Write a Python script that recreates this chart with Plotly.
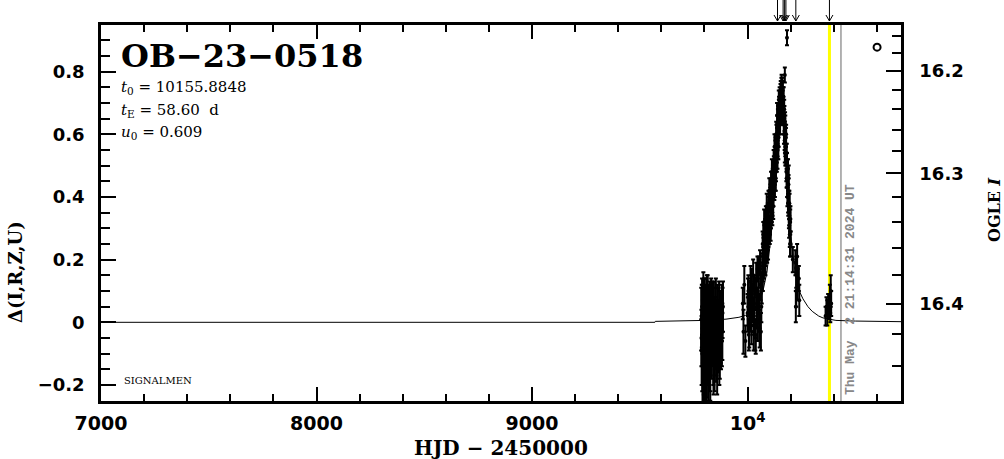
import plotly.graph_objects as go

# ---------------- data ----------------
# model curve
model_hjd = [7000, 9570, 9572, 9700, 9800, 9900, 9960, 9990, 10010, 10030, 10050,
             10070, 10090, 10110, 10125, 10140, 10150, 10156, 10162, 10172, 10186,
             10200, 10220, 10240, 10257, 10280, 10300, 10330, 10350, 10380, 10410,
             10500, 10712]
model_delta = [0.000, 0.000, 0.003, 0.004, 0.006, 0.010, 0.016, 0.022, 0.028, 0.040, 0.060,
               0.095, 0.160, 0.280, 0.420, 0.600, 0.700, 0.740, 0.700, 0.600, 0.420,
               0.280, 0.160, 0.100, 0.075, 0.050, 0.035, 0.020, 0.014, 0.009, 0.006,
               0.004, 0.002]

# cluster A (early season)
a_hjd = [9786, 9788, 9790, 9792, 9794, 9796, 9798, 9800, 9802, 9804, 9806, 9808, 9810,
         9812, 9814, 9816, 9818, 9820, 9822, 9824, 9826, 9828, 9830, 9833, 9836, 9839,
         9842, 9845, 9848, 9851, 9854, 9857, 9860, 9863, 9866, 9869, 9872, 9875, 9878,
         9881, 9884]
a_delta = [-0.05, 0.02, -0.10, 0.04, -0.08, -0.02, 0.05, -0.12, 0.00, -0.06, 0.03, -0.15,
           -0.04, 0.06, -0.09, -0.01, -0.13, 0.02, -0.07, 0.04, -0.11, -0.03, 0.01, -0.08,
           0.05, -0.05, -0.12, 0.00, -0.06, 0.03, -0.09, -0.02, 0.04, -0.07, -0.01, -0.10,
           0.02, -0.04, 0.01, -0.06, 0.03]
a_err = [0.09, 0.10, 0.12, 0.08, 0.11, 0.10, 0.09, 0.12, 0.10, 0.11, 0.09, 0.12, 0.10,
         0.09, 0.11, 0.10, 0.12, 0.09, 0.10, 0.08, 0.11, 0.10, 0.09, 0.10, 0.08, 0.09,
         0.11, 0.08, 0.09, 0.08, 0.10, 0.09, 0.08, 0.09, 0.08, 0.10, 0.08, 0.09, 0.07,
         0.08, 0.08]
a2_hjd = [9785, 9787, 9789, 9791, 9793, 9795, 9797, 9799, 9801, 9803, 9805, 9807, 9809,
          9811, 9813, 9815, 9817, 9819, 9821, 9823, 9825, 9827, 9829, 9831, 9835, 9838,
          9841, 9844, 9847, 9850, 9853, 9856, 9859, 9862, 9865, 9868, 9871, 9874, 9877,
          9880, 9883, 9886]
a2_delta = [0.01, -0.09, 0.05, -0.14, -0.03, 0.07, -0.11, -0.04, 0.04, -0.16,
            0.00, -0.07, 0.05, -0.12, -0.02, 0.06, -0.08, -0.14, 0.03, -0.05,
            0.04, -0.13, -0.06, 0.05, -0.03, 0.02, -0.09, 0.04, -0.11, -0.02,
            0.05, -0.07, -0.12, 0.02, -0.04, 0.04, -0.08, 0.01, -0.05, 0.03,
            -0.03, 0.05]
a2_err = [0.10, 0.11, 0.09, 0.12, 0.10, 0.09, 0.12, 0.11, 0.10, 0.12,
          0.10, 0.11, 0.09, 0.12, 0.10, 0.09, 0.11, 0.12, 0.09, 0.10,
          0.09, 0.12, 0.11, 0.09, 0.10, 0.09, 0.11, 0.09, 0.11, 0.10,
          0.09, 0.10, 0.11, 0.09, 0.10, 0.09, 0.10, 0.09, 0.10, 0.09,
          0.09, 0.08]

# cluster B (start of rise)
b_hjd = [9978, 9981, 9985, 9990, 10000, 10004, 10008, 10012, 10016, 10020, 10024, 10028,
         10032, 10036, 10040, 10044, 10048, 10052, 10056, 10060, 10064, 10068]
b_delta = [0.06, -0.03, 0.12, -0.06, 0.03, 0.10, -0.02, 0.08, 0.02, 0.12, 0.05, -0.03,
           0.10, -0.04, 0.14, 0.06, 0.00, 0.16, -0.02, 0.12, 0.05, 0.18]
b_err = [0.05, 0.07, 0.06, 0.05, 0.06, 0.05, 0.06, 0.05, 0.05, 0.05, 0.05, 0.06,
         0.05, 0.05, 0.05, 0.05, 0.06, 0.05, 0.06, 0.05, 0.05, 0.04]
b2_hjd = [10002, 10006, 10010, 10014, 10018, 10022, 10026, 10030, 10034, 10038, 10042,
          10046, 10050, 10054, 10058, 10062, 10066]
b2_delta = [0.08, -0.04, 0.05, 0.13, -0.01, 0.07, 0.15, 0.02, 0.09, -0.05, 0.04,
            0.17, 0.09, 0.03, 0.19, -0.03, 0.11]
b2_err = [0.06, 0.05, 0.06, 0.05, 0.06, 0.05, 0.05, 0.06, 0.05, 0.05, 0.06,
          0.04, 0.05, 0.06, 0.04, 0.06, 0.05]

# rising branch
r_hjd = [10070, 10072, 10074, 10076, 10078, 10080, 10082, 10084, 10086, 10088, 10090,
         10092, 10094, 10096, 10098, 10100, 10102, 10104, 10106, 10108, 10110, 10112,
         10114, 10116, 10118, 10120, 10122, 10124, 10126, 10128, 10130, 10132, 10134,
         10136, 10138, 10140, 10142, 10144, 10146, 10148, 10150, 10152, 10154, 10156,
         10158]
r_delta = [0.25, 0.17, 0.23, 0.18, 0.27, 0.20, 0.29, 0.22, 0.31, 0.24, 0.33,
           0.26, 0.35, 0.27, 0.37, 0.29, 0.39, 0.31, 0.41, 0.33, 0.43, 0.35,
           0.45, 0.37, 0.47, 0.40, 0.50, 0.42, 0.52, 0.45, 0.56, 0.48, 0.60,
           0.51, 0.63, 0.55, 0.66, 0.59, 0.69, 0.63, 0.71, 0.67, 0.74, 0.70,
           0.76]
r_err = [0.04, 0.04, 0.04, 0.04, 0.04, 0.04, 0.04, 0.04, 0.03, 0.04, 0.03,
         0.03, 0.03, 0.03, 0.03, 0.03, 0.03, 0.03, 0.03, 0.03, 0.03, 0.03,
         0.03, 0.03, 0.03, 0.03, 0.03, 0.03, 0.03, 0.03, 0.03, 0.03, 0.03,
         0.03, 0.03, 0.03, 0.03, 0.03, 0.03, 0.03, 0.03, 0.03, 0.03, 0.03,
         0.03]
r2_hjd = [10071, 10073, 10075, 10077, 10079, 10081, 10083, 10085, 10087, 10089, 10091,
          10093, 10095, 10097, 10099, 10101, 10103, 10105, 10107, 10109, 10111, 10113,
          10115, 10117, 10119, 10121, 10123, 10125, 10127, 10129, 10131, 10133, 10135,
          10137, 10139, 10141, 10143, 10145, 10147, 10149, 10151, 10153, 10155, 10157]
r2_delta = [0.14, 0.28, 0.20, 0.32, 0.19, 0.28, 0.19, 0.33, 0.25, 0.37, 0.23,
            0.33, 0.24, 0.38, 0.30, 0.42, 0.29, 0.39, 0.30, 0.44, 0.36, 0.48,
            0.35, 0.45, 0.37, 0.51, 0.43, 0.56, 0.44, 0.54, 0.46, 0.60, 0.53,
            0.66, 0.53, 0.64, 0.56, 0.71, 0.63, 0.72, 0.63, 0.73, 0.66, 0.75]
r2_err = [0.04, 0.04, 0.04, 0.04, 0.04, 0.04, 0.04, 0.04, 0.04, 0.04, 0.04,
          0.04, 0.04, 0.04, 0.04, 0.04, 0.04, 0.04, 0.04, 0.04, 0.04, 0.04,
          0.04, 0.04, 0.04, 0.04, 0.04, 0.04, 0.04, 0.04, 0.04, 0.04, 0.04,
          0.04, 0.04, 0.04, 0.04, 0.03, 0.03, 0.03, 0.03, 0.03, 0.03, 0.03]

# falling branch
f_hjd = [10160, 10162, 10164, 10166, 10168, 10170, 10172, 10174, 10176, 10178, 10180,
         10182, 10184, 10186, 10188, 10190, 10192, 10194, 10196, 10198, 10200, 10210,
         10222, 10226, 10230, 10226, 10224, 10232, 10240, 10238]
f_delta = [0.72, 0.75, 0.68, 0.72, 0.63, 0.68, 0.58, 0.64, 0.53, 0.59, 0.48,
           0.54, 0.43, 0.49, 0.38, 0.44, 0.33, 0.38, 0.28, 0.32, 0.25, 0.20,
           0.19, 0.16, 0.21, 0.10, 0.05, 0.12, 0.07, 0.14]
f_err = [0.03, 0.03, 0.03, 0.03, 0.03, 0.03, 0.03, 0.03, 0.03, 0.03, 0.03,
         0.03, 0.03, 0.03, 0.03, 0.03, 0.03, 0.04, 0.04, 0.04, 0.04, 0.04,
         0.04, 0.05, 0.04, 0.05, 0.05, 0.05, 0.05, 0.04]
f2_hjd = [10161, 10163, 10165, 10167, 10169, 10171, 10173, 10175, 10177, 10179, 10181,
          10183, 10185, 10187, 10189, 10191, 10193, 10195, 10197, 10199]
f2_delta = [0.67, 0.74, 0.66, 0.72, 0.60, 0.66, 0.54, 0.63, 0.53, 0.60, 0.46,
            0.51, 0.40, 0.49, 0.38, 0.46, 0.31, 0.37, 0.25, 0.33]
f2_err = [0.03, 0.03, 0.03, 0.03, 0.03, 0.03, 0.03, 0.03, 0.03, 0.03, 0.03,
          0.03, 0.03, 0.03, 0.04, 0.04, 0.04, 0.04, 0.04, 0.04]

# isolated high points
p_hjd = [10173, 10183]
p_delta = [0.789, 0.908]
p_err = [0.024, 0.024]

# late cluster
d_hjd = [10362, 10366, 10370, 10374, 10378, 10382, 10384, 10386, 10388]
d_delta = [0.02, 0.05, 0.03, 0.06, 0.04, 0.08, 0.03, 0.10, 0.06]
d_err = [0.03, 0.03, 0.04, 0.03, 0.03, 0.04, 0.03, 0.05, 0.04]

# open-circle marker
circ_hjd = [10601]
circ_delta = [0.878]

# arrows above the frame, vertical markers
arrow_hjd = [10139, 10165, 10172, 10178, 10224, 10380]
yellow_hjd = 10380
now_hjd = 10433.4
now_text = "Thu May  2 21:14:31 2024 UT"

# axis ticks
x_major = [7000, 8000, 9000, 10000]
x_major_text = ["7000", "8000", "9000", "10<sup>4</sup>"]
x_minor = [v for v in range(7000, 10800, 200) if v % 1000 != 0]
y_major = [-0.2, 0.0, 0.2, 0.4, 0.6, 0.8]
y_major_text = ["\u22120.2", "0", "0.2", "0.4", "0.6", "0.8"]
y_minor = [-0.25, -0.15, -0.1, -0.05, 0.05, 0.1, 0.15, 0.25, 0.3, 0.35, 0.45, 0.5,
           0.55, 0.65, 0.7, 0.75, 0.85, 0.9]
mag_major = [16.2, 16.3, 16.4]
mag_minor = [16.16, 16.18, 16.22, 16.24, 16.26, 16.28, 16.32, 16.34, 16.36, 16.38,
             16.42, 16.44]

X_RANGE = [7000, 10712]
Y_RANGE = [-0.2511, 0.9486]


def mag_to_delta(m):
    d = m - 16.3
    return 0.475 - 3.67 * d - 4.5 * d ** 2 - 5.0 * d ** 3


# ---------------- figure ----------------
fig = go.Figure()

fig.add_trace(go.Scatter(x=model_hjd, y=model_delta, mode="lines",
                         line=dict(color="black", width=1), hoverinfo="skip",
                         showlegend=False))

all_hjd = a_hjd + a2_hjd + b_hjd + b2_hjd + r_hjd + r2_hjd + f_hjd + f2_hjd + p_hjd + d_hjd
all_delta = (a_delta + a2_delta + b_delta + b2_delta + r_delta + r2_delta + f_delta
             + f2_delta + p_delta + d_delta)
all_err = a_err + a2_err + b_err + b2_err + r_err + r2_err + f_err + f2_err + p_err + d_err

fig.add_trace(go.Scatter(x=all_hjd, y=all_delta, mode="markers",
                         marker=dict(color="black", size=4),
                         error_y=dict(type="data", array=all_err, color="black",
                                      thickness=2, width=2),
                         showlegend=False))

fig.add_trace(go.Scatter(x=circ_hjd, y=circ_delta, mode="markers",
                         marker=dict(symbol="circle-open", color="black", size=7,
                                     line=dict(width=2)),
                         showlegend=False))

# invisible trace on right axis
fig.add_trace(go.Scatter(x=[X_RANGE[0]], y=[0], yaxis="y2", mode="markers",
                         marker=dict(opacity=0), showlegend=False, hoverinfo="skip"))

# vertical lines
fig.add_shape(type="line", xref="x", yref="paper", x0=yellow_hjd, x1=yellow_hjd,
              y0=0, y1=1, line=dict(color="#ffff00", width=3), layer="below")
fig.add_shape(type="line", xref="x", yref="paper", x0=now_hjd, x1=now_hjd,
              y0=0, y1=1, line=dict(color="#999999", width=1.5), layer="below")

# arrows above the frame
PX_PER_DAY = 800 / (X_RANGE[1] - X_RANGE[0])
PLOT_H = 376
top_p = 1 + 25 / PLOT_H
tip_p = 1 + 4 / PLOT_H
head_p = 1 + 10 / PLOT_H
hw = 3.5 / PX_PER_DAY
for h in arrow_hjd:
    fig.add_shape(type="line", xref="x", yref="paper", x0=h, x1=h, y0=top_p, y1=tip_p,
                  line=dict(color="black", width=1))
    fig.add_shape(type="line", xref="x", yref="paper", x0=h - hw, x1=h, y0=head_p, y1=tip_p,
                  line=dict(color="black", width=1))
    fig.add_shape(type="line", xref="x", yref="paper", x0=h + hw, x1=h, y0=head_p, y1=tip_p,
                  line=dict(color="black", width=1))

tickfont = dict(family="DejaVu Sans", size=18, color="black", weight="bold")

fig.update_layout(
    width=1004, height=459,
    margin=dict(l=101, r=103, t=25, b=58),
    plot_bgcolor="white", paper_bgcolor="white",
    showlegend=False,
    font=dict(color="black"),
    xaxis=dict(range=X_RANGE, tickmode="array", tickvals=x_major, ticktext=x_major_text,
               ticks="inside", ticklen=14, tickwidth=2, tickcolor="black",
               showline=True, linewidth=2.5, linecolor="black", mirror="ticks",
               showgrid=False, zeroline=False, tickfont=dict(tickfont, size=19),
               ticklabelstandoff=3,
               minor=dict(tickmode="array", tickvals=x_minor, ticks="inside", ticklen=7,
                          tickwidth=2, tickcolor="black", showgrid=False)),
    yaxis=dict(range=Y_RANGE, tickmode="array", tickvals=y_major, ticktext=y_major_text,
               ticks="inside", ticklen=15, tickwidth=2, tickcolor="black",
               showline=True, linewidth=2.5, linecolor="black", mirror=False,
               showgrid=False, zeroline=False, tickfont=tickfont, ticklabelstandoff=10,
               minor=dict(tickmode="array", tickvals=y_minor, ticks="inside", ticklen=9,
                          tickwidth=2, tickcolor="black", showgrid=False)),
    yaxis2=dict(range=Y_RANGE, overlaying="y", side="right", tickmode="array",
                tickvals=[mag_to_delta(m) for m in mag_major],
                ticktext=["%.1f" % m for m in mag_major],
                ticks="inside", ticklen=15, tickwidth=2, tickcolor="black",
                showline=True, linewidth=2.5, linecolor="black",
                showgrid=False, zeroline=False, tickfont=tickfont, ticklabelstandoff=12,
                minor=dict(tickmode="array", tickvals=[mag_to_delta(m) for m in mag_minor],
                           ticks="inside", ticklen=9, tickwidth=2, tickcolor="black",
                           showgrid=False)),
)

serif = "DejaVu Serif"
ann = [
    dict(text="<b>OB\u221223\u22120518</b>", x=0.0225, y=(401 - 56) / PLOT_H,
         xanchor="left", yanchor="middle", font=dict(family=serif, size=32)),
    dict(text="<i>t</i><sub>0</sub> = 10155.8848", x=0.0225, y=(401 - 88) / PLOT_H,
         xanchor="left", yanchor="middle", font=dict(family=serif, size=15)),
    dict(text="<i>t</i><sub>E</sub> = 58.60  d", x=0.0225, y=(401 - 110) / PLOT_H,
         xanchor="left", yanchor="middle", font=dict(family=serif, size=15)),
    dict(text="<i>u</i><sub>0</sub> = 0.609", x=0.0225, y=(401 - 132) / PLOT_H,
         xanchor="left", yanchor="middle", font=dict(family=serif, size=15)),
    dict(text="SIGNALMEN", x=(122 - 101) / 800, y=(401 - 380) / PLOT_H,
         xanchor="left", yanchor="middle", font=dict(family=serif, size=10)),
    dict(text="<b>HJD \u2212 2450000</b>", x=0.5, y=(401 - 448) / PLOT_H,
         xanchor="center", yanchor="middle", font=dict(family=serif, size=20)),
    dict(text="<b>\u0394(I,R,Z,U)</b>", x=(15 - 101) / 800, y=(401 - 272) / PLOT_H,
         xanchor="center", yanchor="middle", textangle=-90,
         font=dict(family=serif, size=18)),
    dict(text="<b>OGLE <i>I</i></b>", x=(994 - 101) / 800, y=(401 - 210) / PLOT_H,
         xanchor="center", yanchor="middle", textangle=-90,
         font=dict(family=serif, size=16)),
    dict(text="<b>" + now_text.replace("  ", "\u00a0 ") + "</b>", x=(850 - 101) / 800,
         y=(401 - 290) / PLOT_H, xanchor="center", yanchor="middle", textangle=-90,
         font=dict(family="Liberation Mono", size=13, color="#888888")),
]
for a in ann:
    a["font"].setdefault("color", "black")
    fig.add_annotation(xref="paper", yref="paper", showarrow=False, **a)

fig.write_html("out.html", config={"displayModeBar": False},
               post_script="document.body.style.margin='0';")
